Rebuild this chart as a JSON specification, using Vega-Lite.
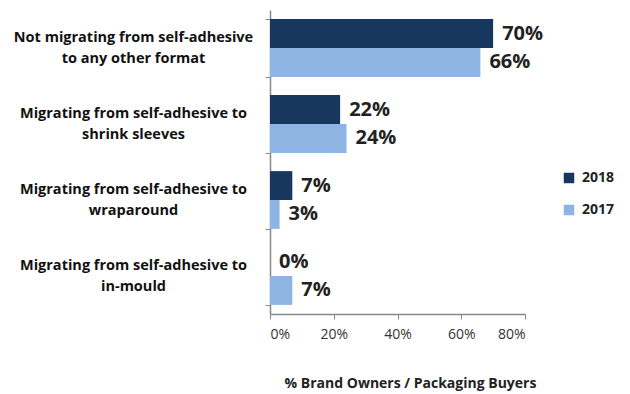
{
  "$schema": "https://vega.github.io/schema/vega-lite/v6.json",
  "autosize": "none",
  "width": 255,
  "height": 304,
  "padding": {"left": 270, "top": 10, "right": 105, "bottom": 80},
  "background": "white",
  "config": {"font": "Open Sans", "view": {"stroke": null}},
  "data": {"values": [
    {"cat": "Not migrating from self-adhesive|to any other format", "year": "2018", "value": 0.70, "label": "70%"},
    {"cat": "Not migrating from self-adhesive|to any other format", "year": "2017", "value": 0.66, "label": "66%"},
    {"cat": "Migrating from self-adhesive to|shrink sleeves", "year": "2018", "value": 0.22, "label": "22%"},
    {"cat": "Migrating from self-adhesive to|shrink sleeves", "year": "2017", "value": 0.24, "label": "24%"},
    {"cat": "Migrating from self-adhesive to|wraparound", "year": "2018", "value": 0.07, "label": "7%"},
    {"cat": "Migrating from self-adhesive to|wraparound", "year": "2017", "value": 0.03, "label": "3%"},
    {"cat": "Migrating from self-adhesive to|in-mould", "year": "2018", "value": 0.0, "label": "0%"},
    {"cat": "Migrating from self-adhesive to|in-mould", "year": "2017", "value": 0.07, "label": "7%"}
  ]},
  "encoding": {
    "y": {
      "field": "cat", "type": "nominal", "sort": null,
      "scale": {"paddingInner": 0.24, "paddingOuter": 0.12},
      "axis": {
        "title": null,
        "labelExpr": "datum.value ? split(datum.value, '|') : ''",
        "labelFont": "Open Sans", "labelFontWeight": "bold", "labelFontSize": 14.5, "labelColor": "#111",
        "labelLineHeight": 21, "labelPadding": 132, "labelAlign": "center", "labelOffset": -11, "labelLimit": 400,
        "domainColor": "#888", "tickColor": "#888", "tickSize": 5, "tickBand": "extent", "domainWidth": 1.5
      }
    },
    "yOffset": {"field": "year", "type": "nominal", "sort": ["2018", "2017"]},
    "x": {
      "field": "value", "type": "quantitative",
      "scale": {"domain": [0, 0.8]},
      "axis": {
        "format": ".0%", "values": [0, 0.2, 0.4, 0.6, 0.8], "grid": false, "labelOverlap": false,
        "title": "% Brand Owners / Packaging Buyers",
        "titleFont": "Open Sans", "titleFontWeight": "bold", "titleFontSize": 14, "titleColor": "#222",
        "titleX": 140, "titleY": 69, "titleAlign": "center", "titleBaseline": "middle",
        "labelFont": "Open Sans", "labelFontSize": 14, "labelColor": "#333", "labelPadding": 8,
        "domainColor": "#888", "tickColor": "#888", "tickSize": 5, "domainWidth": 1.5
      }
    }
  },
  "layer": [
    {
      "mark": {"type": "bar"},
      "encoding": {
        "color": {
          "field": "year", "type": "nominal",
          "scale": {"domain": ["2018", "2017"], "range": ["#17375e", "#8db4e2"]},
          "legend": {
            "title": null, "orient": "none", "legendX": 292, "legendY": 161,
            "symbolType": "square", "symbolSize": 110, "symbolStrokeWidth": 0,
            "labelFont": "Open Sans", "labelFontWeight": "bold", "labelFontSize": 14, "labelColor": "#222",
            "rowPadding": 18, "labelOffset": 6
          }
        }
      }
    },
    {
      "mark": {"type": "text", "align": "left", "baseline": "middle", "dx": 9, "font": "Open Sans", "fontWeight": "bold", "fontSize": 20, "color": "#222"},
      "encoding": {"text": {"field": "label"}}
    }
  ]
}
